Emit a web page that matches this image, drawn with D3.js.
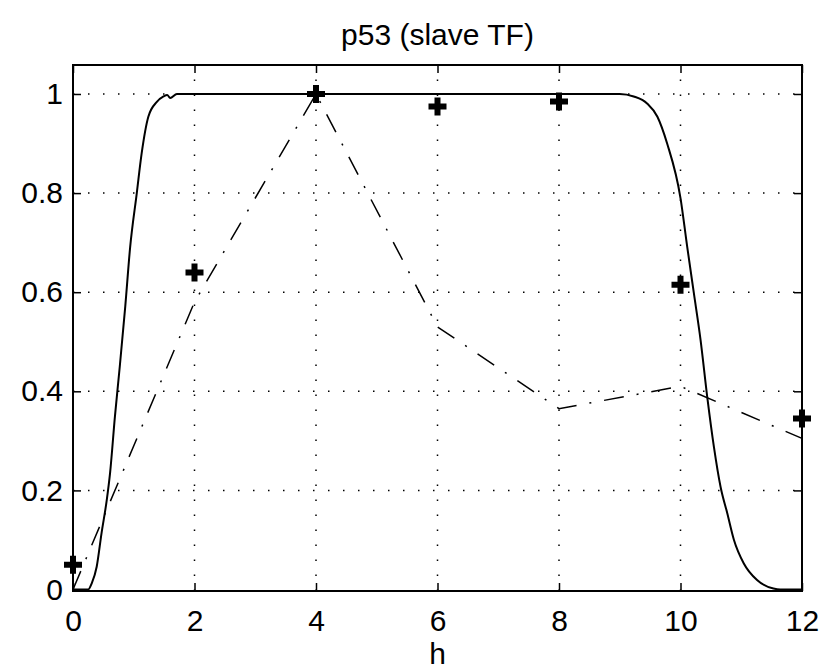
<!DOCTYPE html>
<html>
<head>
<meta charset="utf-8">
<script src="https://cdn.jsdelivr.net/npm/d3@7"></script>
<style>
  body { margin: 0; background: #fff; }
  svg { display: block; }
</style>
</head>
<body>
<div id="chart"></div>
<script>
// p53 time course: measured points, piecewise fit and model curve
const xTicks = [0, 2, 4, 6, 8, 10, 12];
const yTicks = [0, 0.2, 0.4, 0.6, 0.8, 1];
const yTickLabels = ["0", "0.2", "0.4", "0.6", "0.8", "1"];

const hours = [0, 2, 4, 6, 8, 10, 12];
const measured = [0.05, 0.64, 1.0, 0.975, 0.985, 0.615, 0.345];
const fitted = [0.0, 0.58, 1.0, 0.53, 0.365, 0.41, 0.305];

const modelT = [0, 0.25, 0.31, 0.39, 0.47, 0.555, 0.61, 0.69, 0.77, 0.86, 0.94, 1.05, 1.13, 1.24, 1.38, 1.49, 1.55, 1.6, 1.71,
                9.0, 9.23, 9.45, 9.62, 9.78, 10.0, 10.11, 10.22, 10.33, 10.44, 10.55, 10.66, 10.77, 10.88, 11.04, 11.26, 11.53, 11.64, 12];
const modelP = [0, 0, 0.013, 0.046, 0.114, 0.18, 0.235, 0.349, 0.45, 0.571, 0.69, 0.80, 0.88, 0.954, 0.984, 0.995, 0.998, 0.992, 1.0,
                1.0, 0.995, 0.981, 0.954, 0.90, 0.79, 0.692, 0.598, 0.504, 0.389, 0.288, 0.207, 0.154, 0.10, 0.053, 0.019, 0.002, 0, 0];

const width = 826, height = 672;
const plot = { left: 73, right: 802, top: 65, bottom: 591 };
const font = "'Liberation Sans', Arial, Helvetica, sans-serif";
const fontSize = "30px";

const svg = d3.select("#chart").append("svg")
    .attr("width", width)
    .attr("height", height);

const x = d3.scaleLinear().domain([0, 12]).range([plot.left, plot.right]);
const y = d3.scaleLinear().domain([-0.003, 1.0585]).range([plot.bottom, plot.top]);

// dotted grid
const grid = svg.append("g")
    .attr("stroke", "#000")
    .attr("stroke-width", 1.5)
    .attr("stroke-dasharray", "1.5,13.5");

grid.selectAll("line.v")
    .data(xTicks.slice(1, -1))
    .join("line")
    .attr("class", "v")
    .attr("x1", d => x(d)).attr("x2", d => x(d))
    .attr("y1", plot.bottom).attr("y2", plot.top);

grid.selectAll("line.h")
    .data(yTicks.slice(1))
    .join("line")
    .attr("class", "h")
    .attr("x1", plot.left).attr("x2", plot.right)
    .attr("y1", d => y(d)).attr("y2", d => y(d));

// axes: MATLAB style box with inward ticks on every side
const tickLen = 8;
svg.append("g")
    .attr("transform", `translate(0,${plot.bottom})`)
    .call(d3.axisBottom(x).tickValues(xTicks).tickSize(-tickLen).tickPadding(19).tickFormat(d3.format("d")))
    .call(g => g.select(".domain").remove());
svg.append("g")
    .attr("transform", `translate(0,${plot.top})`)
    .call(d3.axisTop(x).tickValues(xTicks).tickSize(-tickLen).tickFormat(""))
    .call(g => g.select(".domain").remove());
svg.append("g")
    .attr("transform", `translate(${plot.left},0)`)
    .call(d3.axisLeft(y).tickValues(yTicks).tickSize(-tickLen).tickPadding(10)
        .tickFormat((d, i) => yTickLabels[i]))
    .call(g => g.select(".domain").remove());
svg.append("g")
    .attr("transform", `translate(${plot.right},0)`)
    .call(d3.axisRight(y).tickValues(yTicks).tickSize(-tickLen).tickFormat(""))
    .call(g => g.select(".domain").remove());

svg.selectAll(".tick line").attr("stroke", "#000").attr("stroke-width", 1.5);
svg.selectAll(".tick text")
    .attr("fill", "#000")
    .style("font-family", font)
    .style("font-size", fontSize);

svg.append("rect")
    .attr("x", plot.left).attr("y", plot.top)
    .attr("width", plot.right - plot.left)
    .attr("height", plot.bottom - plot.top)
    .attr("fill", "none")
    .attr("stroke", "#000")
    .attr("stroke-width", 2);

// model curve (solid)
const model = modelT.map((t, i) => [t, modelP[i]]);
svg.append("path")
    .datum(model)
    .attr("fill", "none")
    .attr("stroke", "#000")
    .attr("stroke-width", 2)
    .attr("d", d3.line().x(d => x(d[0])).y(d => y(d[1])).curve(d3.curveMonotoneX));

// fit through the time points (dash-dot)
svg.append("path")
    .datum(hours.map((h, i) => [h, fitted[i]]))
    .attr("fill", "none")
    .attr("stroke", "#000")
    .attr("stroke-width", 1.5)
    .attr("stroke-dasharray", "20,13,2,13")
    .attr("d", d3.line().x(d => x(d[0])).y(d => y(d[1])));

// measured points (thick plus markers)
svg.append("g")
    .selectAll("path")
    .data(hours.map((h, i) => [h, measured[i]]))
    .join("path")
    .attr("transform", d => `translate(${x(d[0])},${y(d[1])})`)
    .attr("d", "M-9,0H9M0,-9V9")
    .attr("stroke", "#000")
    .attr("stroke-width", 6)
    .attr("fill", "none");

// title and axis label
svg.append("text")
    .attr("x", (plot.left + plot.right) / 2)
    .attr("y", 45)
    .attr("text-anchor", "middle")
    .style("font-family", font)
    .style("font-size", fontSize)
    .text("p53 (slave TF)");

svg.append("text")
    .attr("x", (plot.left + plot.right) / 2)
    .attr("y", 664)
    .attr("text-anchor", "middle")
    .style("font-family", font)
    .style("font-size", fontSize)
    .text("h");
</script>
</body>
</html>
